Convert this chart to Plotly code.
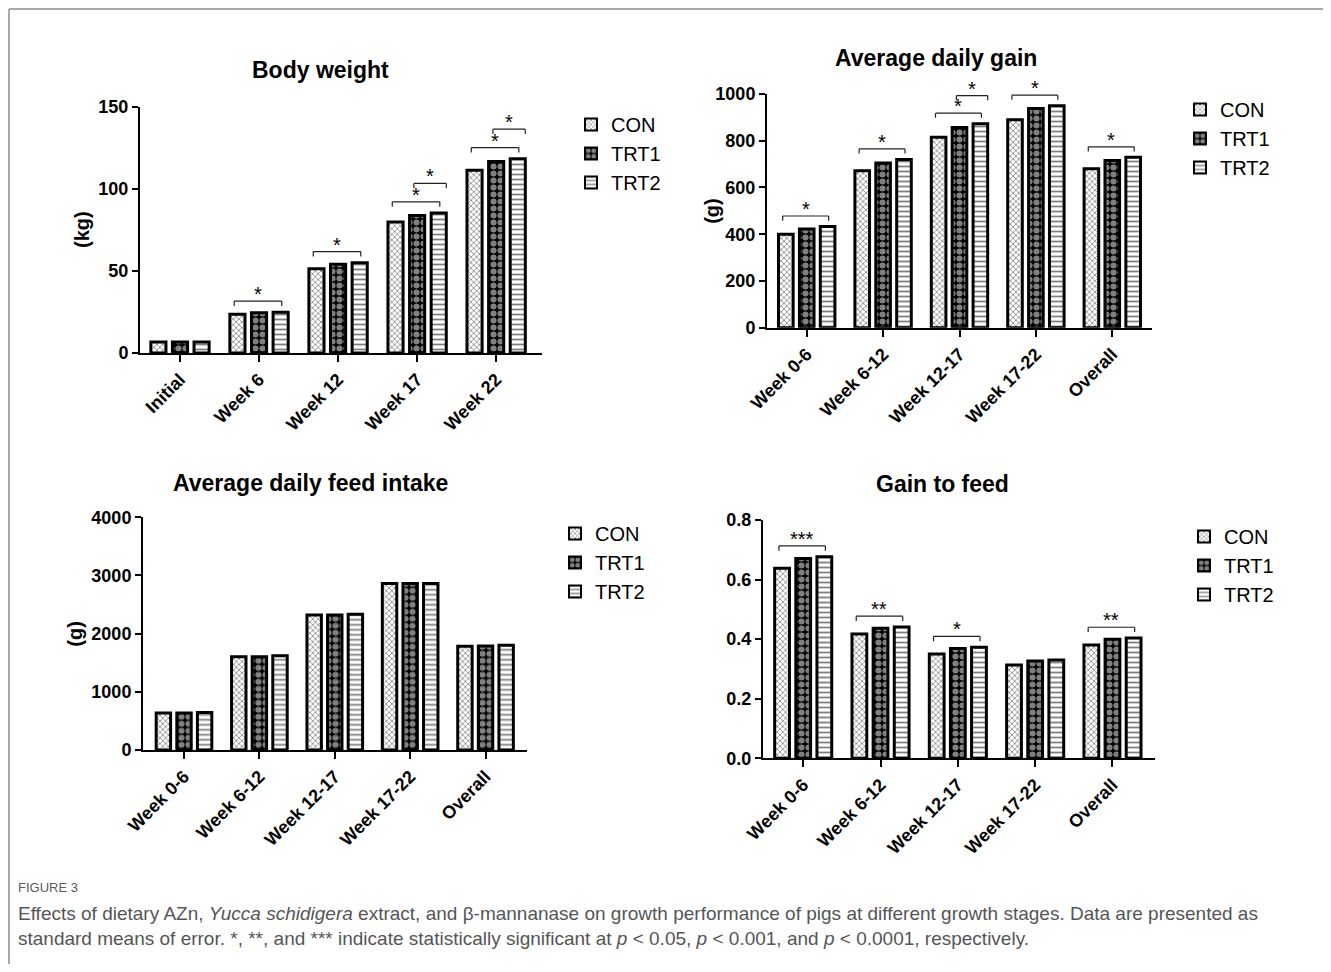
import plotly.graph_objects as go

W, H = 1331, 972
OFF = 8  # page body margin
FW, FH = W - 2 * OFF, H - 2 * OFF

series = ["CON", "TRT1", "TRT2"]

bw_cats = ["Initial", "Week 6", "Week 12", "Week 17", "Week 22"]
bw_con = [6.7, 23.6, 51.4, 79.9, 111.4]
bw_trt1 = [6.7, 24.6, 54.1, 83.9, 116.8]
bw_trt2 = [6.7, 24.9, 55.1, 85.4, 118.5]

adg_cats = ["Week 0-6", "Week 6-12", "Week 12-17", "Week 17-22", "Overall"]
adg_con = [400, 672, 815, 890, 680]
adg_trt1 = [422, 705, 857, 938, 715]
adg_trt2 = [433, 720, 873, 950, 729]

adfi_cats = ["Week 0-6", "Week 6-12", "Week 12-17", "Week 17-22", "Overall"]
adfi_con = [635, 1605, 2320, 2860, 1785]
adfi_trt1 = [635, 1605, 2320, 2862, 1787]
adfi_trt2 = [645, 1622, 2332, 2862, 1800]

gf_cats = ["Week 0-6", "Week 6-12", "Week 12-17", "Week 17-22", "Overall"]
gf_con = [0.638, 0.417, 0.350, 0.313, 0.380]
gf_trt1 = [0.671, 0.437, 0.369, 0.327, 0.400]
gf_trt2 = [0.677, 0.441, 0.373, 0.330, 0.404]

# significance brackets: (category index, from series, to series, label, level)
bw_sig = [(1, 0, 2, "*", 0), (2, 0, 2, "*", 0), (3, 0, 2, "*", 0), (3, 1, 2, "*", 1),
          (4, 0, 2, "*", 0), (4, 1, 2, "*", 1)]
adg_sig = [(0, 0, 2, "*", 0), (1, 0, 2, "*", 0), (2, 0, 2, "*", 0), (2, 1, 2, "*", 1),
           (3, 0, 2, "*", 0), (4, 0, 2, "*", 0)]
adfi_sig = []
gf_sig = [(0, 0, 2, "***", 0), (1, 0, 2, "**", 0), (2, 0, 2, "*", 0), (4, 0, 2, "**", 0)]

FONT = "Liberation Sans, Arial, sans-serif"
BARGAP = 0.18
GROUPGAP = 0.3

patterns = [
    dict(shape="x", size=4, solidity=0.35, fgcolor="black", bgcolor="white"),
    dict(shape=".", size=7, solidity=0.6, fgcolor="white", bgcolor="black"),
    dict(shape="-", size=5, solidity=0.35, fgcolor="black", bgcolor="white"),
]


def px_x(p):
    return (p - OFF) / FW


def px_y(p):
    return 1 - (p - OFF) / FH


panels = [
    dict(title="Body weight", cats=bw_cats, vals=[bw_con, bw_trt1, bw_trt2], sig=bw_sig,
         xd=(140, 542), yd=(353, 107), yr=(0, 150), dtick=50, fmt="", xr=(-0.506, 4.58),
         ytitle="(kg)", ytx=82, tx=320, ty=70, leg=(571, 105)),
    dict(title="Average daily gain", cats=adg_cats, vals=[adg_con, adg_trt1, adg_trt2], sig=adg_sig,
         xd=(767, 1152), yd=(327.7, 94), yr=(0, 1000), dtick=200, fmt="", xr=(-0.52, 4.52),
         ytitle="(g)", ytx=712, tx=936, ty=58, leg=(1180, 90)),
    dict(title="Average daily feed intake", cats=adfi_cats, vals=[adfi_con, adfi_trt1, adfi_trt2], sig=adfi_sig,
         xd=(143, 527), yd=(750, 517.3), yr=(0, 4000), dtick=1000, fmt="", xr=(-0.544, 4.55),
         ytitle="(g)", ytx=75, tx=310, ty=483, leg=(555, 514)),
    dict(title="Gain to feed", cats=gf_cats, vals=[gf_con, gf_trt1, gf_trt2], sig=gf_sig,
         xd=(763, 1155), yd=(758.3, 520), yr=(0, 0.8), dtick=0.2, fmt=".1f", xr=(-0.52, 4.55),
         ytitle="", ytx=0, tx=942, ty=484, leg=(1184, 517)),
]

fig = go.Figure()
shapes = []
annotations = []
layout = {}

slot = (1 - BARGAP) / 3


def bar_center(i, k):
    return i - (1 - BARGAP) / 2 + slot * (k + 0.5)


for n, p in enumerate(panels):
    sfx = "" if n == 0 else str(n + 1)
    xa, ya = "x" + sfx, "y" + sfx
    leg = "legend" + sfx
    idx = list(range(len(p["cats"])))
    for k, s in enumerate(series):
        fig.add_trace(go.Bar(
            x=idx, y=p["vals"][k], name=s, xaxis=xa, yaxis=ya, legend=leg,
            marker=dict(color="white", line=dict(color="black", width=3), pattern=patterns[k]),
            showlegend=True, hoverinfo="y",
        ))
    layout["xaxis" + sfx] = dict(
        domain=[px_x(p["xd"][0]), px_x(p["xd"][1])], anchor=ya,
        range=list(p["xr"]), tickvals=idx, ticktext=p["cats"], tickangle=-45,
        showline=True, linecolor="black", linewidth=2, ticks="outside", ticklen=7, tickwidth=2,
        tickcolor="black", showgrid=False, zeroline=False,
        tickfont=dict(family=FONT, size=18, color="black", weight="bold"),
    )
    layout["yaxis" + sfx] = dict(
        domain=[px_y(p["yd"][0]), px_y(p["yd"][1])], anchor=xa,
        range=list(p["yr"]), dtick=p["dtick"], tickformat=p["fmt"],
        showline=True, linecolor="black", linewidth=2, ticks="outside", ticklen=6, tickwidth=2,
        tickcolor="black", showgrid=False, zeroline=False,
        tickfont=dict(family=FONT, size=18, color="black", weight="bold"),
    )
    layout[leg] = dict(
        x=px_x(p["leg"][0]), y=px_y(p["leg"][1]), xanchor="left", yanchor="top",
        font=dict(family=FONT, size=20, color="black"), bgcolor="rgba(0,0,0,0)",
        itemsizing="constant", tracegroupgap=0,
    )
    annotations.append(dict(
        x=px_x(p["tx"]), y=px_y(p["ty"]), xref="paper", yref="paper", text="<b>%s</b>" % p["title"],
        showarrow=False, xanchor="center", yanchor="middle",
        font=dict(family=FONT, size=23, color="black"),
    ))
    if p["ytitle"]:
        ymid = (p["yd"][0] + p["yd"][1]) / 2
        annotations.append(dict(
            x=px_x(p["ytx"]), y=px_y(ymid), xref="paper", yref="paper", text="<b>%s</b>" % p["ytitle"],
            showarrow=False, textangle=-90, xanchor="center", yanchor="middle",
            font=dict(family=FONT, size=20, color="black"),
        ))
    span = p["yr"][1] - p["yr"][0]
    for (ci, a, b, lab, lvl) in p["sig"]:
        top = max(p["vals"][k][ci] for k in range(a, b + 1))
        yb = top + span * (0.045 + 0.075 * lvl)
        x0 = bar_center(ci, a) - slot * 0.15
        x1 = bar_center(ci, b) + slot * (0.05 + 0.3 * lvl)
        t = span * 0.02
        for (xx0, yy0, xx1, yy1) in [(x0, yb - t, x0, yb), (x0, yb, x1, yb), (x1, yb - t, x1, yb)]:
            shapes.append(dict(type="line", xref=xa, yref=ya, x0=xx0, y0=yy0, x1=xx1, y1=yy1,
                               line=dict(color="#222222", width=1.2)))
        annotations.append(dict(
            x=(x0 + x1) / 2, y=yb, xref=xa, yref=ya, text=lab, showarrow=False,
            xanchor="center", yanchor="bottom", yshift=-6,
            font=dict(family=FONT, size=20, color="black"),
        ))

# frame border (top and left)
shapes.append(dict(type="line", xref="paper", yref="paper", x0=px_x(9), y0=px_y(9), x1=1, y1=px_y(9),
                   line=dict(color="#a8a8a8", width=2)))
shapes.append(dict(type="line", xref="paper", yref="paper", x0=px_x(9), y0=px_y(9), x1=px_x(9), y1=0,
                   line=dict(color="#a8a8a8", width=2)))

CAP = "Liberation Sans, Arial, sans-serif"
annotations.append(dict(
    x=px_x(16), y=px_y(887), xref="paper", yref="paper", text="FIGURE 3", showarrow=False,
    xanchor="left", yanchor="middle", font=dict(family=CAP, size=13, color="#5a5a5a"),
))
annotations.append(dict(
    x=px_x(16), y=px_y(901), xref="paper", yref="paper", align="left",
    text=("Effects of dietary AZn, <i>Yucca schidigera</i> extract, and β-mannanase on growth performance of pigs "
          "at different growth stages. Data are presented as<br>standard means of error. *, **, and *** indicate "
          "statistically significant at <i>p</i> &lt; 0.05, <i>p</i> &lt; 0.001, and <i>p</i> &lt; 0.0001, respectively."),
    showarrow=False, xanchor="left", yanchor="top", font=dict(family=CAP, size=19, color="#555555"),
))

fig.update_layout(
    width=FW, height=FH, margin=dict(l=0, r=0, t=0, b=0, autoexpand=False),
    paper_bgcolor="white", plot_bgcolor="white",
    barmode="group", bargap=BARGAP, bargroupgap=GROUPGAP,
    shapes=shapes, annotations=annotations, showlegend=True,
    **layout,
)

fig.write_html("out.html")
